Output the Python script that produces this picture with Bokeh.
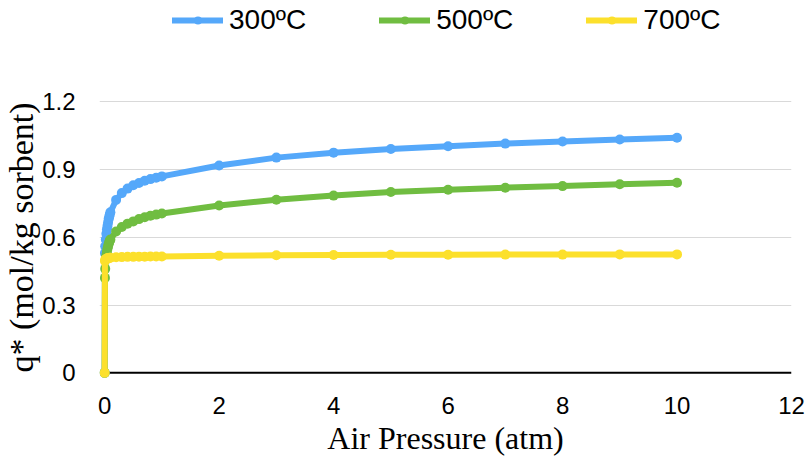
from bokeh.plotting import figure
from bokeh.models import Legend, LegendItem, Range1d, FixedTicker, Title
from bokeh.embed import file_html
from bokeh.resources import INLINE

# ---- data ----
pressure = [0, 0.005, 0.01, 0.02, 0.03, 0.04, 0.05, 0.06, 0.07, 0.08, 0.09,
            0.1, 0.2, 0.3, 0.4, 0.5, 0.6, 0.7, 0.8, 0.9,
            1, 2, 3, 4, 5, 6, 7, 8, 9, 10]
q_300 = [0, 0.53, 0.56, 0.59, 0.615, 0.635, 0.65, 0.665, 0.68, 0.69, 0.70,
         0.71, 0.765, 0.795, 0.815, 0.83, 0.84, 0.85, 0.857, 0.863,
         0.869, 0.917, 0.952, 0.974, 0.99, 1.002, 1.014, 1.023, 1.032, 1.04]
q_500 = [0, 0.42, 0.46, 0.50, 0.52, 0.535, 0.55, 0.56, 0.57, 0.578, 0.585,
         0.59, 0.625, 0.645, 0.66, 0.67, 0.68, 0.688, 0.695, 0.70,
         0.705, 0.74, 0.766, 0.784, 0.80, 0.81, 0.819, 0.826, 0.834, 0.841]
q_700 = [0, 0.495, 0.50, 0.503, 0.505, 0.506, 0.507, 0.507, 0.508, 0.508, 0.509,
         0.509, 0.511, 0.512, 0.513, 0.513, 0.514, 0.514, 0.515, 0.515,
         0.515, 0.518, 0.52, 0.521, 0.522, 0.522, 0.523, 0.523, 0.524, 0.524]
series_labels = ["300ºC", "500ºC", "700ºC"]
series_colors = ["#55A8FA", "#70BD41", "#FCE02C"]
x_ticks = [0, 2, 4, 6, 8, 10, 12]
y_ticks = [0, 0.3, 0.6, 0.9, 1.2]
y_tick_labels = ["0", "0.3", "0.6", "0.9", "1.2"]
x_title = "Air Pressure (atm)"
y_title = "q* (mol/kg sorbent)"

# frame reaches the top of the figure so the legend can sit inside it
p = figure(frame_width=692, frame_height=378,
           x_range=Range1d(-0.09, 12), y_range=Range1d(-0.025, 1.647),
           output_backend="svg", toolbar_location=None,
           min_border_left=99, min_border_right=18,
           min_border_top=0, min_border_bottom=86)
p.outline_line_color = None
p.background_fill_color = "white"
p.border_fill_color = "white"

# x axis (line drawn at q*=0 below)
xa = p.xaxis[0]
xa.ticker = FixedTicker(ticks=x_ticks)
xa.axis_line_color = None
xa.major_tick_line_color = None
xa.minor_tick_line_color = None
xa.major_label_standoff = 12
xa.major_label_text_font = "Liberation Sans"
xa.major_label_text_font_size = "24px"
xa.major_label_text_color = "black"
xa.axis_label = x_title
xa.axis_label_text_font = "Liberation Serif"
xa.axis_label_text_font_size = "32px"
xa.axis_label_text_font_style = "normal"
xa.axis_label_text_color = "black"
xa.axis_label_standoff = 3

ya = p.yaxis[0]
ya.ticker = FixedTicker(ticks=y_ticks)
ya.major_label_overrides = dict(zip(y_ticks, y_tick_labels))
ya.axis_line_color = None
ya.major_tick_line_color = None
ya.minor_tick_line_color = None
ya.major_label_standoff = 18
ya.major_label_text_font = "Liberation Sans"
ya.major_label_text_font_size = "24px"
ya.major_label_text_color = "black"

# y title as a side-panel title anchored at the bottom of the value axis
p.add_layout(Title(text=y_title, align="left", vertical_align="bottom",
                   offset=6, standoff=0,
                   text_font="Liberation Serif", text_font_size="34px",
                   text_font_style="normal", text_color="black"), "left")

p.xgrid.visible = False
p.ygrid.ticker = FixedTicker(ticks=y_ticks[1:])
p.ygrid.grid_line_color = "#D9D9D9"
p.ygrid.grid_line_width = 1

# horizontal axis line at q* = 0, spanning the tick range
p.segment(x0=[x_ticks[0]], y0=[y_ticks[0]], x1=[x_ticks[-1]], y1=[y_ticks[0]],
          line_color="black", line_width=2)

items = []
for q, lab, col in zip([q_300, q_500, q_700], series_labels, series_colors):
    ln = p.line(pressure, q, line_width=6, line_color=col, line_join="round", line_cap="round")
    sc = p.scatter(pressure, q, size=10, fill_color=col, line_color=col, line_width=0)
    items.append(LegendItem(label=lab, renderers=[ln, sc]))

legend = Legend(items=items, orientation="horizontal", location=(73, 342),
                glyph_width=51, glyph_height=20, label_height=20,
                label_standoff=6, spacing=73, padding=0, margin=0,
                border_line_color=None, background_fill_alpha=0,
                label_text_font="Liberation Sans", label_text_font_size="28px",
                label_text_color="black")
p.add_layout(legend, "center")

open("out.html", "w").write(file_html(p, INLINE))
